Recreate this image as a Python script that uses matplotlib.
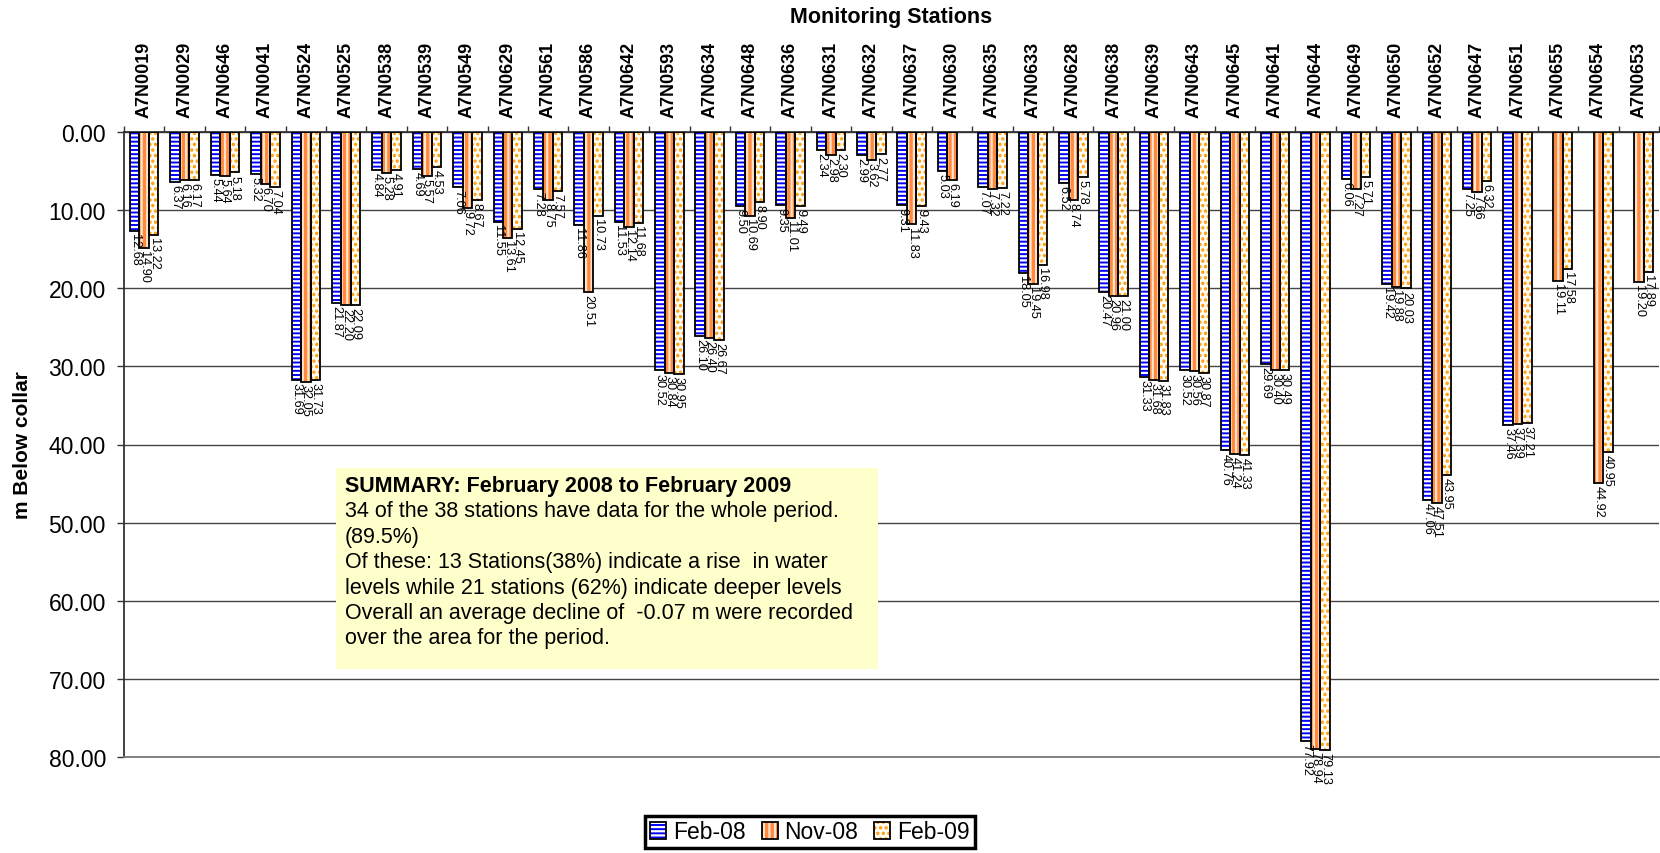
import numpy as np
import matplotlib
matplotlib.use("Agg")
import matplotlib.pyplot as plt
from matplotlib.patches import Rectangle
from matplotlib.legend_handler import HandlerTuple

nan = np.nan

stations = ["A7N0019", "A7N0029", "A7N0646", "A7N0041", "A7N0524", "A7N0525",
            "A7N0538", "A7N0539", "A7N0549", "A7N0629", "A7N0561", "A7N0586",
            "A7N0642", "A7N0593", "A7N0634", "A7N0648", "A7N0636", "A7N0631",
            "A7N0632", "A7N0637", "A7N0630", "A7N0635", "A7N0633", "A7N0628",
            "A7N0638", "A7N0639", "A7N0643", "A7N0645", "A7N0641", "A7N0644",
            "A7N0649", "A7N0650", "A7N0652", "A7N0647", "A7N0651", "A7N0655",
            "A7N0654", "A7N0653"]

feb08 = [12.68, 6.37, 5.44, 5.32, 31.69, 21.87, 4.84, 4.69, 7.06, 11.55, 7.28,
         11.86, 11.53, 30.52, 26.10, 9.50, 9.35, 2.34, 2.99, 9.31, 5.03, 7.07,
         18.05, 6.52, 20.47, 31.33, 30.52, 40.76, 29.69, 77.92, 6.06, 19.42,
         47.06, 7.25, 37.46, nan, nan, nan]
nov08 = [14.90, 6.16, 5.64, 6.70, 32.05, 22.20, 5.28, 5.57, 9.72, 13.61, 8.75,
         20.51, 12.14, 30.84, 26.40, 10.69, 11.01, 2.98, 3.62, 11.83, 6.19, 7.32,
         19.45, 8.74, 20.96, 31.68, 30.56, 41.24, 30.40, 78.94, 7.27, 19.88,
         47.51, 7.66, 37.39, 19.11, 44.92, 19.20]
feb09 = [13.22, 6.17, 5.18, 7.04, 31.73, 22.09, 4.91, 4.53, 8.67, 12.45, 7.57,
         10.73, 11.68, 30.95, 26.67, 8.90, 9.49, 2.30, 2.77, 9.43, nan, 7.22,
         16.98, 5.78, 21.00, 31.83, 30.87, 41.33, 30.49, 79.13, 5.71, 20.03,
         43.95, 6.32, 37.21, 17.58, 40.95, 17.89]

series_names = ["Feb-08", "Nov-08", "Feb-09"]
y_ticks = [0, 10, 20, 30, 40, 50, 60, 70, 80]

summary_title = "SUMMARY: February 2008 to February 2009"
summary_lines = [
    "34 of the 38 stations have data for the whole period.",
    "(89.5%)",
    "Of these: 13 Stations(38%) indicate a rise  in water",
    "levels while 21 stations (62%) indicate deeper levels",
    "Overall an average decline of  -0.07 m were recorded",
    "over the area for the period.",
]

plt.rcParams["font.family"] = ["Liberation Sans", "DejaVu Sans"]
plt.rcParams["hatch.linewidth"] = 1.6

W, H = 1660, 854
fig = plt.figure(figsize=(W / 100, H / 100), dpi=100)
ax = fig.add_axes([124 / W, 1 - 758 / H, (1659 - 124) / W, (758 - 133) / H])

x = np.arange(len(stations))
bw = 0.235
styles = [
    dict(face="#0000FF", hatch="----", hcolor="white"),
    dict(face="#FF8A3D", hatch="|||", hcolor="#FFE3CC"),
    dict(face="#FFFDF6", hatch="...", hcolor="#FF9A00"),
]

handles = []
for i, (vals, st) in enumerate(zip([feb08, nov08, feb09], styles)):
    vals = np.array(vals, dtype=float)
    pos = x + (i - 1) * bw
    fill = ax.bar(pos, vals, bw, color=st["face"], edgecolor=st["hcolor"],
                  hatch=st["hatch"], linewidth=0, zorder=2)
    edge = ax.bar(pos, vals, bw, fill=False, edgecolor="black",
                  linewidth=1.3, zorder=3)
    handles.append((fill, edge))
    for px, v in zip(pos, vals):
        if np.isnan(v):
            continue
        ax.annotate(f"{v:.2f}", (px, v), xytext=(0, -1.5),
                    textcoords="offset points", rotation=270,
                    ha="center", va="top", fontsize=9.2, zorder=4)

ax.set_xlim(-0.5, len(stations) - 0.5)
ax.set_ylim(80, 0)

# category labels along the top, tick marks between the groups
ax.xaxis.tick_top()
ax.set_xticks(x)
ax.set_xticklabels(stations, rotation=90, fontweight="bold", fontsize=13)
ax.tick_params(axis="x", which="major", length=0, pad=10.5)
ax.set_xticks(np.arange(len(stations) + 1) - 0.5, minor=True)
ax.tick_params(axis="x", which="minor", top=True, bottom=False, length=4.5,
               width=1, color="#333333", direction="out")

ax.set_yticks(y_ticks)
ax.set_yticklabels([f"{v:.2f}" for v in y_ticks], fontsize=16.5)
ax.tick_params(axis="y", length=5, width=1, color="#333333", pad=8)

ax.yaxis.grid(True, color="#444444", linewidth=1.0)
ax.set_axisbelow(True)
ax.spines["right"].set_visible(False)
ax.spines["bottom"].set_color("#777777")
ax.spines["bottom"].set_linewidth(1.3)
ax.spines["left"].set_color("#333333")
ax.spines["left"].set_linewidth(1.3)
ax.spines["top"].set_color("#333333")
ax.spines["top"].set_linewidth(1.3)

fig.text(891 / W, 1 - 18 / H, "Monitoring Stations", ha="center",
         va="center", fontsize=15.5, fontweight="bold")
fig.text(22 / W, 1 - 445 / H, "m Below collar", ha="center", va="center",
         rotation=90, fontsize=15, fontweight="bold")

# summary note
box_l, box_r, box_t, box_b = 336, 878, 469, 670
fig.patches.append(Rectangle((box_l / W, 1 - box_b / H), (box_r - box_l) / W,
                             (box_b - box_t) / H, transform=fig.transFigure,
                             facecolor="#FFFFCC", edgecolor="none", zorder=5))
base0, step = 492, 25.4
fig.text(345 / W, 1 - base0 / H, summary_title, ha="left", va="baseline",
         fontsize=15.5, fontweight="bold", zorder=6)
for k, line in enumerate(summary_lines, start=1):
    fig.text(345 / W, 1 - (base0 + k * step) / H, line, ha="left",
             va="baseline", fontsize=15.5, zorder=6)

leg = fig.legend(handles, series_names, loc="center",
                 bbox_to_anchor=(810 / W, 1 - 833 / H), ncol=3,
                 fontsize=16.5, handlelength=0.7, handleheight=0.7,
                 handletextpad=0.3, columnspacing=0.7, borderpad=0.2,
                 fancybox=False, edgecolor="black", framealpha=1,
                 handler_map={tuple: HandlerTuple(ndivide=1, pad=0)})
leg.get_frame().set_linewidth(2.5)

fig.savefig("out.png", dpi=100)
